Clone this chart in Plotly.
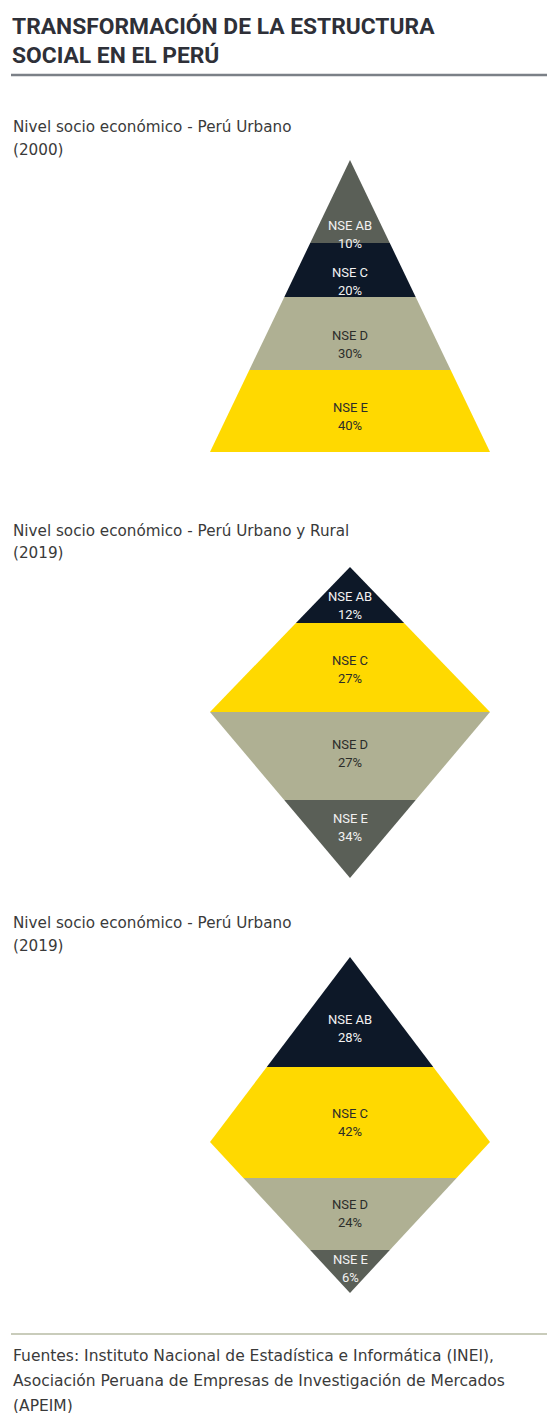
import plotly.graph_objects as go

# ---------------- data ----------------
title_lines = ["TRANSFORMACIÓN DE LA ESTRUCTURA", "SOCIAL EN EL PERÚ"]

panel_titles = [
    ["Nivel socio económico - Perú Urbano", "(2000)"],
    ["Nivel socio económico - Perú Urbano y Rural", "(2019)"],
    ["Nivel socio económico - Perú Urbano", "(2019)"],
]

segments = ["NSE AB", "NSE C", "NSE D", "NSE E"]
values_2000_urbano = [10, 20, 30, 40]
values_2019_urbano_rural = [12, 27, 27, 34]
values_2019_urbano = [28, 42, 24, 6]

source_lines = [
    "Fuentes: Instituto Nacional de Estadística e Informática (INEI),",
    "Asociación Peruana de Empresas de Investigación de Mercados",
    "(APEIM)",
]

# ---------------- styles ----------------
C_GRAY = "#5a5f57"
C_NAVY = "#0d1828"
C_KHAKI = "#afb093"
C_YELLOW = "#ffd900"
TXT_DARK = "#2e3038"
TXT_BODY = "#3a3a3a"

colors_2000 = [C_GRAY, C_NAVY, C_KHAKI, C_YELLOW]
colors_2019_ur = [C_NAVY, C_YELLOW, C_KHAKI, C_GRAY]
colors_2019_u = [C_NAVY, C_YELLOW, C_KHAKI, C_GRAY]

# layout of each figure (drawing geometry in page pixels)
panels = [
    dict(values=values_2000_urbano, colors=colors_2000, cx=350, half=140,
         top=160, wide=452, bottom=452, cuts=[243, 297, 370],
         label_y=[234, 281, 344, 416], title_y=[127, 150]),
    dict(values=values_2019_urbano_rural, colors=colors_2019_ur, cx=350, half=140,
         top=567, wide=712, bottom=878, cuts=[623, 712, 800],
         label_y=[605, 669, 753, 827], title_y=[531, 553]),
    dict(values=values_2019_urbano, colors=colors_2019_u, cx=350, half=140,
         top=957, wide=1142, bottom=1293, cuts=[1067, 1178, 1250],
         label_y=[1028, 1122, 1213, 1268], title_y=[923, 946]),
]

W, H = 555, 1413
OFF = 8  # page body margin: data coordinates == page pixels
fig = go.Figure()


def half_width(p, y):
    if y <= p["wide"]:
        return p["half"] * (y - p["top"]) / (p["wide"] - p["top"])
    return p["half"] * (p["bottom"] - y) / (p["bottom"] - p["wide"])


def band_polygon(p, y0, y1):
    ys = [y0]
    if y0 < p["wide"] < y1:
        ys.append(p["wide"])
    ys.append(y1)
    left = [(p["cx"] - half_width(p, y), y) for y in ys]
    right = [(p["cx"] + half_width(p, y), y) for y in reversed(ys)]
    pts = left + right
    return [q[0] for q in pts] + [pts[0][0]], [q[1] for q in pts] + [pts[0][1]]


LABEL_FONT = "Roboto"
BODY_FONT = "DejaVu Sans"

annotations = []
for k, p in enumerate(panels):
    edges = [p["top"]] + p["cuts"] + [p["bottom"]]
    for i, (seg, val, col) in enumerate(zip(segments, p["values"], p["colors"])):
        xs, ys = band_polygon(p, edges[i], edges[i + 1])
        fig.add_trace(go.Scatter(x=xs, y=ys, mode="lines", fill="toself",
                                 fillcolor=col, line=dict(width=0, color=col),
                                 hoverinfo="skip", showlegend=False))
        tcol = "#f2f2f2" if col in (C_NAVY, C_GRAY) else "#2b2d2a"
        ly = p["label_y"][i]
        annotations.append(dict(x=p["cx"], y=ly - 9, text=seg, showarrow=False,
                                font=dict(family=LABEL_FONT, size=13, color=tcol),
                                xanchor="center", yanchor="middle"))
        annotations.append(dict(x=p["cx"], y=ly + 9, text=f"{val}%", showarrow=False,
                                font=dict(family=LABEL_FONT, size=13, color=tcol),
                                xanchor="center", yanchor="middle"))
    for t, ty in zip(panel_titles[k], p["title_y"]):
        annotations.append(dict(x=11, y=ty, text=t, showarrow=False, xanchor="left",
                                yanchor="middle",
                                font=dict(family=BODY_FONT, size=15.2, color=TXT_BODY)))

for t, ty in zip(title_lines, [26, 55]):
    annotations.append(dict(x=10, y=ty, text=f"<b>{t}</b>", showarrow=False, xanchor="left",
                            yanchor="middle",
                            font=dict(family="Roboto", size=22.8, color=TXT_DARK)))

for t, ty in zip(source_lines, [1356, 1381, 1406]):
    annotations.append(dict(x=11, y=ty, text=t, showarrow=False, xanchor="left",
                            yanchor="middle",
                            font=dict(family=BODY_FONT, size=15.5, color=TXT_BODY)))

shapes = [
    dict(type="line", x0=11, x1=W + OFF, y0=75, y1=75, xref="x", yref="y",
         line=dict(color="#7b8087", width=2.5)),
    dict(type="line", x0=11, x1=W + OFF, y0=1334, y1=1334, xref="x", yref="y",
         line=dict(color="#c9ccbb", width=2)),
]

fig.update_layout(
    width=W, height=H, margin=dict(l=0, r=0, t=0, b=0),
    paper_bgcolor="white", plot_bgcolor="white",
    xaxis=dict(range=[OFF, W + OFF], visible=False, fixedrange=True),
    yaxis=dict(range=[H + OFF, OFF], visible=False, fixedrange=True),
    annotations=annotations, shapes=shapes, showlegend=False,
)

fig.write_html("out.html")
